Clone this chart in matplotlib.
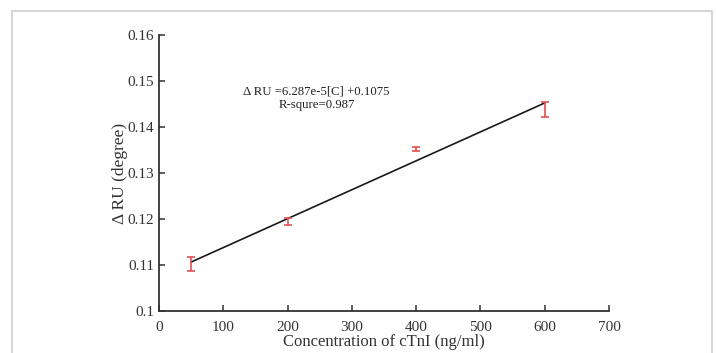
import matplotlib
matplotlib.use("Agg")
import matplotlib.pyplot as plt
from matplotlib.patches import Rectangle
import numpy as np

plt.rcParams['font.family'] = ['Liberation Serif', 'DejaVu Serif']

conc = [50, 200, 400, 600]
delta_ru = [0.1102, 0.1195, 0.1352, 0.1438]
err = [0.0016, 0.0008, 0.0005, 0.0016]
slope = 6.287e-5
intercept = 0.1075
fit_x = [50, 600]
xticks = [0, 100, 200, 300, 400, 500, 600, 700]
yticks = [0.1, 0.11, 0.12, 0.13, 0.14, 0.15, 0.16]
ytick_labels = ['0.1', '0.11', '0.12', '0.13', '0.14', '0.15', '0.16']

fig = plt.figure(figsize=(7.17, 3.53), dpi=100)
fig.patches.append(Rectangle((12/717, -0.1), 700/717, 1 - 11/353 + 0.1,
                             transform=fig.transFigure, fill=False,
                             edgecolor='#d0d0d0', linewidth=1.2))
ax = fig.add_axes([159/717, 1 - 311/353, 450/717, 276/353])

fx = np.array(fit_x, dtype=float)
ax.plot(fx, slope * fx + intercept, color='#1a1a1a', linewidth=1.2, zorder=2)
ax.errorbar(conc, delta_ru, yerr=err, fmt='none', ecolor='#e05050',
            elinewidth=1.2, capsize=3, capthick=1.2, zorder=3)

ax.set_xlim(0, 700)
ax.set_ylim(0.1, 0.16)
ax.set_xticks(xticks)
ax.set_yticks(yticks)
ax.set_yticklabels(ytick_labels)
for s in ['top', 'right']:
    ax.spines[s].set_visible(False)
for s in ['left', 'bottom']:
    ax.spines[s].set_color('#333333')
    ax.spines[s].set_linewidth(1.3)
ax.tick_params(direction='in', length=4, width=1.1, colors='#333333',
               labelsize=11, labelcolor='#333333')
ax.tick_params(axis='x', pad=7)
ax.set_xlabel('Concentration of cTnI (ng/ml)', fontsize=12, color='#333333', labelpad=0)
ax.set_ylabel('Δ RU (degree)', fontsize=12.5, color='#333333', labelpad=0)

ax.text(244, 0.1478, 'Δ RU =6.287e-5[C] +0.1075', ha='center', va='center',
        fontsize=9.2, color='#222222')
ax.text(246, 0.1448, 'R-squre=0.987', ha='center', va='center',
        fontsize=9.2, color='#222222')

fig.savefig('out.png', dpi=100)
